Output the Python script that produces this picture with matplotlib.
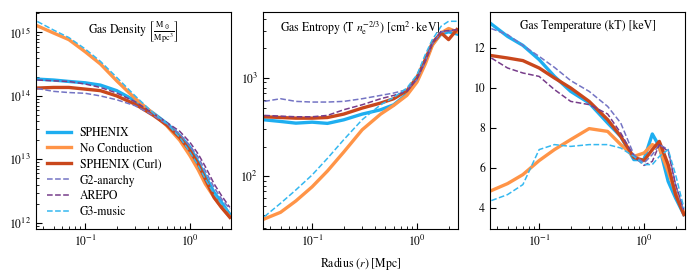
import numpy as np
import matplotlib
matplotlib.use("Agg")
import matplotlib.pyplot as plt

plt.rcParams["font.family"] = ["STIXGeneral", "DejaVu Serif"]
plt.rcParams["mathtext.fontset"] = "stix"
plt.rcParams["font.size"] = 8.5

# Radius bins [Mpc]
radius = [0.035, 0.05, 0.07, 0.1, 0.14, 0.2, 0.3, 0.45, 0.6, 0.8, 1.0, 1.2, 1.4, 1.7, 2.0, 2.4]

# Gas density [Msun / Mpc^3]
dens_sphenix = [1.84e14, 1.78e14, 1.69e14, 1.61e14, 1.48e14, 1.21e14, 8.4e13, 5.3e13,
                3.69e13, 2.36e13, 1.55e13, 8.97e12, 5.5e12, 3.0e12, 2.1e12, 1.35e12]
dens_nocond = [1.27e15, 9.8e14, 7.7e14, 4.97e14, 3.18e14, 1.73e14, 9.1e13, 5.2e13,
               3.39e13, 1.99e13, 1.14e13, 6.8e12, 4.1e12, 2.52e12, 1.75e12, 1.25e12]
dens_curl = [1.33e14, 1.36e14, 1.36e14, 1.28e14, 1.21e14, 1.0e14, 7.4e13, 4.9e13,
             3.5e13, 2.2e13, 1.37e13, 8.4e12, 4.9e12, 2.5e12, 1.75e12, 1.22e12]
dens_g2 = [1.31e14, 1.18e14, 1.13e14, 1.1e14, 1.0e14, 8.7e13, 7.0e13, 4.9e13,
           3.6e13, 2.5e13, 1.64e13, 1.08e13, 6.6e12, 3.6e12, 2.38e12, 1.65e12]
dens_arepo = [1.78e14, 1.73e14, 1.69e14, 1.54e14, 1.36e14, 1.11e14, 8.1e13, 5.3e13,
              3.83e13, 2.76e13, 1.85e13, 1.21e13, 7.7e12, 4.1e12, 2.68e12, 1.75e12]
dens_g3 = [1.49e15, 1.09e15, 8.3e14, 5.5e14, 3.5e14, 1.96e14, 1.0e14, 5.3e13,
           3.69e13, 2.22e13, 1.29e13, 7.9e12, 4.9e12, 2.85e12, 1.98e12, 1.41e12]

# Gas entropy [cm^2 keV]
ent_sphenix = [375, 361, 347, 355, 345, 375, 429, 475, 534, 686, 961, 1480, 2190, 2810, 2950, 2810]
ent_nocond = [36.7, 42.9, 56, 78, 113, 176, 297, 429, 526, 665, 910, 1390, 2150, 2880, 3190, 2950]
ent_curl = [403, 396, 390, 390, 396, 429, 494, 556, 615, 741, 1016, 1540, 2280, 2880, 2460, 3110]
ent_g2 = [578, 615, 578, 569, 569, 578, 615, 665, 703, 760, 961, 1480, 2220, 2950, 2990, 3110]
ent_arepo = [416, 409, 403, 403, 416, 475, 534, 615, 665, 731, 985, 1500, 2280, 2990, 3040, 3110]
ent_g3 = [38.7, 53, 72.5, 103, 152, 235, 376, 534, 634, 790, 1080, 1730, 2460, 3370, 3780, 3780]

# Gas temperature [keV]
temp_sphenix = [13.2, 12.58, 12.13, 11.42, 10.58, 9.83, 9.25, 8.25, 7.58, 6.42, 6.42, 7.7, 7.08, 5.33, 4.5, 3.67]
temp_nocond = [4.87, 5.22, 5.67, 6.37, 6.92, 7.42, 7.97, 7.83, 7.17, 6.58, 6.75, 7.17, 7.0, 5.83, 4.75, 3.75]
temp_curl = [11.62, 11.5, 11.37, 11.0, 10.5, 10.0, 9.33, 8.42, 7.58, 6.53, 6.37, 6.92, 7.33, 6.17, 4.67, 3.67]
temp_g2 = [12.97, 12.67, 12.13, 11.58, 11.03, 10.37, 9.83, 9.08, 8.25, 6.67, 6.25, 6.67, 7.17, 6.92, 5.17, 3.83]
temp_arepo = [11.5, 11.0, 10.75, 10.58, 9.92, 9.33, 9.17, 8.7, 7.75, 6.58, 6.13, 6.33, 7.17, 6.83, 5.17, 3.92]
temp_g3 = [4.37, 4.67, 5.17, 6.92, 7.17, 7.08, 7.17, 7.17, 7.0, 6.58, 6.17, 6.17, 6.58, 6.92, 5.67, 4.0]

labels = ["SPHENIX", "No Conduction", "SPHENIX (Curl)", "G2-anarchy", "AREPO", "G3-music"]
colors = ["#1eaef0", "#ff9447", "#c9471c", "#7474c4", "#773d8a", "#35b8f0"]
styles = ["-", "-", "-", "--", "--", "--"]
widths = [2.4, 2.4, 2.4, 1.1, 1.1, 1.1]

panels = [
    ([dens_sphenix, dens_nocond, dens_curl, dens_g2, dens_arepo, dens_g3],
     r"Gas Density $\left[\frac{\rm M_\odot}{\rm Mpc^3}\right]$", "log", (8e11, 2.1e15)),
    ([ent_sphenix, ent_nocond, ent_curl, ent_g2, ent_arepo, ent_g3],
     r"Gas Entropy (T $n_{\rm e}^{-2/3}$) [cm$^2\cdot$keV]", "log", (29, 4700)),
    ([temp_sphenix, temp_nocond, temp_curl, temp_g2, temp_arepo, temp_g3],
     "Gas Temperature (kT) [keV]", "linear", (2.95, 13.8)),
]

fig = plt.figure(figsize=(6.97, 2.74), dpi=100)
lefts = [36 / 697, 263 / 697, 490 / 697]
for i, (series, title, yscale, ylim) in enumerate(panels):
    ax = fig.add_axes([lefts[i], 45 / 274, 195 / 697, 217 / 274])
    for vals, lab, c, ls, lw in zip(series, labels, colors, styles, widths):
        ax.plot(radius, vals, color=c, ls=ls, lw=lw, label=lab)
    ax.set_xscale("log")
    ax.set_yscale(yscale)
    ax.set_xlim(0.034, 2.46)
    ax.set_ylim(*ylim)
    ax.tick_params(which="both", direction="in")
    ax.tick_params(which="major", length=4)
    ax.tick_params(which="minor", length=2)
    ax.text(0.5, 0.965, title, transform=ax.transAxes, ha="center", va="top")
    if i == 0:
        ax.legend(loc="lower left", frameon=False, handlelength=2.1, handletextpad=0.7,
                  labelspacing=0.35)
    if i == 1:
        ax.set_xlabel(r"Radius ($r$) [Mpc]")

fig.savefig("out.png", dpi=100)
